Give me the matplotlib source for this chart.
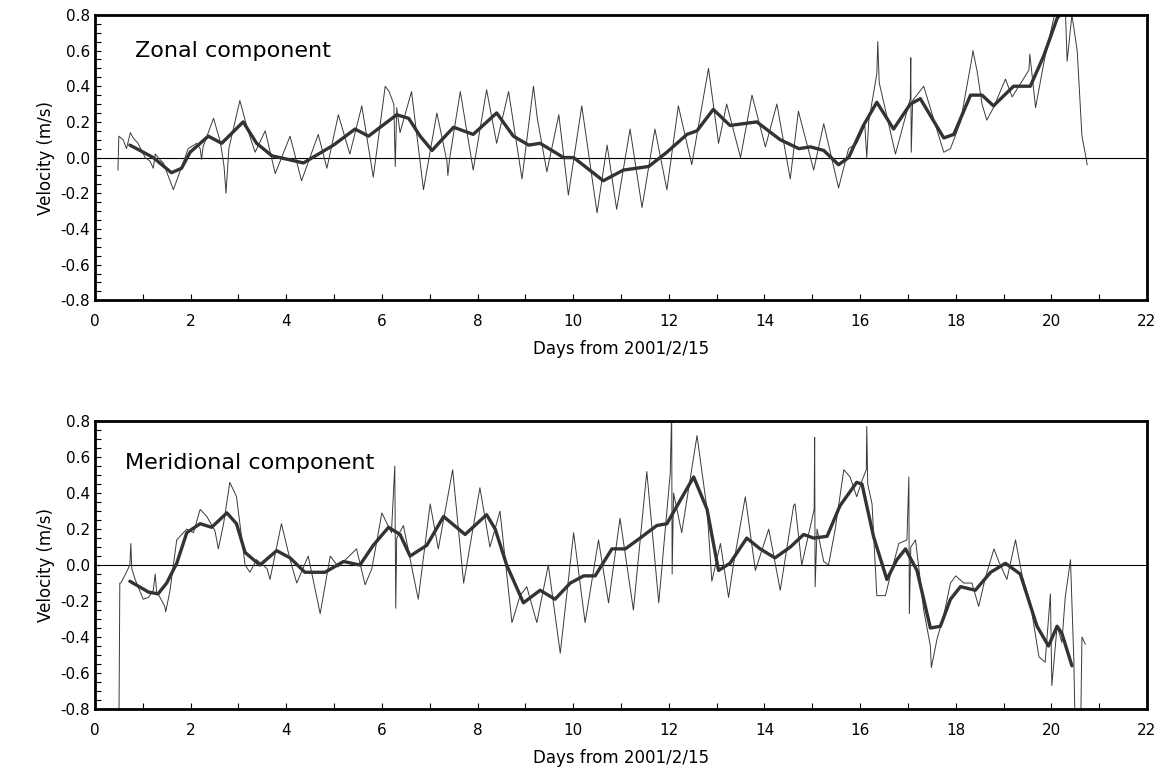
import matplotlib
matplotlib.use("Agg")
import matplotlib.pyplot as plt
from matplotlib.ticker import MultipleLocator, FormatStrFormatter

# zonal component, raw record (days, m/s)
zonal_days = [0.48, 0.50, 0.59, 0.66, 0.74, 0.80, 0.90, 1.05, 1.15, 1.22, 1.26, 1.32, 1.43,
              1.64, 1.95, 2.13, 2.20, 2.23, 2.26, 2.48, 2.62, 2.70, 2.74, 2.80, 3.03, 3.20,
              3.35, 3.56, 3.77, 4.08, 4.32, 4.67, 4.85, 5.09, 5.33, 5.58, 5.82, 6.07, 6.15,
              6.25, 6.28, 6.31, 6.38, 6.62, 6.87, 7.15, 7.36, 7.38, 7.42, 7.64, 7.91, 8.19,
              8.40, 8.65, 8.93, 9.17, 9.25, 9.45, 9.70, 9.90, 10.18, 10.50, 10.71, 10.91,
              11.19, 11.44, 11.71, 11.96, 12.20, 12.48, 12.83, 13.04, 13.21, 13.50, 13.74,
              14.02, 14.26, 14.54, 14.71, 15.03, 15.24, 15.55, 15.76, 15.93, 16.10, 16.14,
              16.18, 16.35, 16.37, 16.40, 16.74, 17.05, 17.06, 17.07, 17.10, 17.33, 17.75,
              17.89, 18.10, 18.34, 18.36, 18.45, 18.55, 18.65, 18.79, 19.04, 19.18, 19.32,
              19.53, 19.55, 19.67, 19.87, 20.05, 20.12, 20.29, 20.33, 20.43, 20.54, 20.64,
              20.71, 20.75]
zonal_raw = [-0.07, 0.12, 0.10, 0.05, 0.14, 0.11, 0.08, 0.00, -0.02, -0.06, 0.02, 0.00, -0.03,
             -0.18, 0.05, 0.08, 0.05, -0.01, 0.06, 0.22, 0.09, -0.05, -0.20, 0.05, 0.32, 0.15,
             0.03, 0.15, -0.09, 0.12, -0.13, 0.13, -0.06, 0.24, 0.02, 0.29, -0.11, 0.40, 0.37,
             0.30, -0.05, 0.28, 0.14, 0.37, -0.18, 0.25, -0.02, -0.10, 0.00, 0.37, -0.07, 0.38,
             0.08, 0.37, -0.12, 0.40, 0.22, -0.08, 0.24, -0.21, 0.29, -0.31, 0.07, -0.29,
             0.16, -0.28, 0.16, -0.18, 0.29, -0.04, 0.50, 0.08, 0.30, 0.00, 0.35,
             0.06, 0.30, -0.12, 0.26, -0.07, 0.19, -0.17, 0.05, 0.08, 0.18, 0.00,
             0.20, 0.47, 0.65, 0.42, 0.02, 0.33, 0.56, 0.03, 0.32, 0.40, 0.03,
             0.05, 0.20, 0.56, 0.60, 0.48, 0.30, 0.21, 0.28, 0.44, 0.34, 0.40,
             0.49, 0.58, 0.28, 0.57, 0.78, 0.85, 0.85, 0.54, 0.80, 0.60, 0.12,
             0.02, -0.04]

# zonal component, low-pass filtered
zonal_smooth_days = [0.73, 1.22, 1.60, 1.81, 1.99, 2.37, 2.65, 3.10, 3.38, 3.70, 4.36, 4.99,
                     5.44, 5.72, 6.31, 6.56, 6.80, 7.05, 7.22, 7.50, 7.91, 8.40, 8.75, 9.07,
                     9.31, 9.80, 10.01, 10.63, 11.05, 11.58, 11.96, 12.38, 12.59, 12.93, 13.28,
                     13.84, 14.33, 14.72, 14.96, 15.24, 15.55, 15.76, 16.07, 16.35, 16.70,
                     17.05, 17.26, 17.75, 17.96, 18.31, 18.55, 18.79, 19.21, 19.56, 19.84,
                     20.12, 20.30, 20.45]
zonal_smooth = [0.07, 0.00, -0.085, -0.06, 0.03, 0.12, 0.08, 0.20, 0.08, 0.01, -0.03, 0.07,
                0.16, 0.12, 0.24, 0.22, 0.12, 0.04, 0.09, 0.17, 0.13, 0.25, 0.12, 0.07,
                0.08, 0.00, 0.00, -0.13, -0.07, -0.05, 0.03, 0.13, 0.15, 0.27, 0.18,
                0.20, 0.10, 0.05, 0.06, 0.04, -0.04, 0.00, 0.18, 0.31, 0.16,
                0.30, 0.33, 0.11, 0.13, 0.35, 0.35, 0.29, 0.40, 0.40, 0.57,
                0.78, 0.84, 0.82]

# meridional component, raw record
merid_days = [0.50, 0.51, 0.52, 0.54, 0.62, 0.73, 0.75, 0.77, 0.84, 1.01, 1.12, 1.22, 1.26,
              1.29, 1.32, 1.46, 1.48, 1.57, 1.71, 1.92, 2.06, 2.20, 2.34, 2.51, 2.58, 2.69,
              2.82, 2.96, 3.14, 3.24, 3.38, 3.60, 3.66, 3.90, 4.08, 4.22, 4.46, 4.71, 4.92,
              5.09, 5.20, 5.47, 5.65, 5.79, 6.00, 6.20, 6.27, 6.29, 6.31, 6.45, 6.76, 7.01,
              7.18, 7.39, 7.48, 7.52, 7.71, 8.05, 8.26, 8.47, 8.72, 8.89, 9.03, 9.24, 9.48,
              9.73, 10.01, 10.25, 10.53, 10.74, 10.98, 11.26, 11.54, 11.79, 12.03, 12.06,
              12.07, 12.10, 12.27, 12.59, 12.80, 12.90, 13.08, 13.25, 13.35, 13.60, 13.81,
              14.09, 14.33, 14.61, 14.64, 14.78, 15.04, 15.05, 15.06, 15.10, 15.24, 15.34,
              15.48, 15.66, 15.79, 15.93, 16.04, 16.13, 16.14, 16.16, 16.25, 16.35, 16.53,
              16.63, 16.81, 16.98, 17.02, 17.03, 17.06, 17.16, 17.33, 17.47, 17.49, 17.61,
              17.75, 17.89, 18.00, 18.17, 18.34, 18.48, 18.62, 18.80, 18.90, 19.07, 19.25,
              19.39, 19.56, 19.74, 19.87, 19.98, 20.01, 20.12, 20.22, 20.29, 20.40, 20.47,
              20.50, 20.61, 20.64, 20.71]
merid_raw = [-0.95, -0.52, -0.10, -0.10, -0.06, 0.00, 0.12, -0.02, -0.08, -0.19, -0.18, -0.14, -0.05,
             -0.15, -0.16, -0.23, -0.26, -0.14, 0.14, 0.20, 0.18, 0.31, 0.27, 0.19, 0.09, 0.23,
             0.46, 0.38, 0.00, -0.04, 0.03, -0.02, -0.08, 0.23, 0.03, -0.10, 0.05, -0.27, 0.05,
             -0.01, 0.02, 0.09, -0.11, -0.02, 0.29, 0.18, 0.55, -0.24, 0.15, 0.22, -0.19, 0.34,
             0.09, 0.40, 0.53, 0.42, -0.10, 0.43, 0.10, 0.30, -0.32, -0.17, -0.12, -0.32, 0.00,
             -0.49, 0.18, -0.32, 0.14, -0.21, 0.26, -0.25, 0.52, -0.21, 0.51, 0.85,
             -0.05, 0.40, 0.18, 0.72, 0.31, -0.09, 0.12, -0.18, 0.00, 0.38, -0.03,
             0.20, -0.14, 0.33, 0.34, 0.00, 0.31, 0.71, -0.12, 0.20, 0.02, 0.00,
             0.20, 0.53, 0.49, 0.38, 0.47, 0.53, 0.77, 0.45, 0.34, -0.17, -0.17,
             -0.06, 0.12, 0.14, 0.49, -0.27, 0.10, 0.14, -0.25, -0.45, -0.57, -0.41,
             -0.28, -0.10, -0.06, -0.10, -0.10, -0.23, -0.07, 0.09, 0.02, -0.08, 0.14,
             -0.06, -0.21, -0.51, -0.54, -0.16, -0.67, -0.34, -0.43, -0.18, 0.03, -0.53,
             -0.95, -0.95, -0.40, -0.44]

# meridional component, low-pass filtered
merid_smooth_days = [0.73, 1.12, 1.32, 1.50, 1.71, 1.92, 2.20, 2.44, 2.76, 2.96, 3.14, 3.45,
                     3.80, 4.08, 4.39, 4.81, 5.20, 5.54, 5.82, 6.14, 6.38, 6.59, 6.94, 7.29,
                     7.74, 8.19, 8.37, 8.61, 8.96, 9.31, 9.62, 9.94, 10.22, 10.46, 10.81,
                     11.09, 11.40, 11.75, 11.96, 12.24, 12.52, 12.80, 13.04, 13.28, 13.63,
                     13.91, 14.22, 14.54, 14.82, 15.03, 15.31, 15.58, 15.93, 16.04, 16.28,
                     16.56, 16.77, 16.95, 17.19, 17.47, 17.68, 17.89, 18.10, 18.41, 18.73,
                     19.04, 19.35, 19.70, 19.94, 20.12, 20.22, 20.43]
merid_smooth = [-0.09, -0.15, -0.16, -0.10, 0.01, 0.18, 0.23, 0.21, 0.29, 0.23, 0.07, 0.00,
                0.08, 0.04, -0.04, -0.04, 0.02, 0.00, 0.11, 0.21, 0.17, 0.05, 0.11, 0.27,
                0.17, 0.28, 0.20, 0.00, -0.21, -0.14, -0.19, -0.10, -0.06, -0.06, 0.09,
                0.09, 0.15, 0.22, 0.23, 0.36, 0.49, 0.31, -0.03, 0.01, 0.15,
                0.09, 0.04, 0.10, 0.17, 0.15, 0.16, 0.33, 0.46, 0.45, 0.16,
                -0.08, 0.03, 0.09, -0.03, -0.35, -0.34, -0.19, -0.12, -0.14, -0.04,
                0.01, -0.05, -0.34, -0.45, -0.34, -0.38, -0.56]

panels = [
    ("Zonal component", (0.84, 0.60), zonal_days, zonal_raw, zonal_smooth_days, zonal_smooth),
    ("Meridional component", (0.63, 0.57), merid_days, merid_raw, merid_smooth_days, merid_smooth),
]

fig = plt.figure(figsize=(11.58, 7.82), dpi=100)
boxes = [[0.082, 0.616, 0.9085, 0.365], [0.082, 0.0934, 0.9085, 0.368]]

for (title, pos, d, v, sd, sv), box in zip(panels, boxes):
    ax = fig.add_axes(box)
    ax.axhline(0, color="black", lw=0.8)
    ax.plot(d, v, color="#3a3a3a", lw=0.7, solid_joinstyle="round")
    ax.plot(sd, sv, color="#333333", lw=2.4, solid_joinstyle="round",
            solid_capstyle="round")
    ax.set_xlim(0, 22)
    ax.set_ylim(-0.8, 0.8)
    ax.xaxis.set_major_locator(MultipleLocator(2))
    ax.xaxis.set_minor_locator(MultipleLocator(1))
    ax.yaxis.set_major_locator(MultipleLocator(0.2))
    ax.yaxis.set_minor_locator(MultipleLocator(0.05))
    ax.yaxis.set_major_formatter(FormatStrFormatter("%.1f"))
    ax.tick_params(which="both", direction="in", length=4, width=0.8, labelsize=11,
                   top=False, right=False)
    ax.tick_params(axis="x", pad=10)
    for s in ax.spines.values():
        s.set_linewidth(2)
    ax.set_xlabel("Days from 2001/2/15", fontsize=12, labelpad=8)
    ax.set_ylabel("Velocity (m/s)", fontsize=12, labelpad=4)
    ax.text(pos[0], pos[1], title, fontsize=16, va="center", ha="left")

fig.savefig("out.png", dpi=100)
